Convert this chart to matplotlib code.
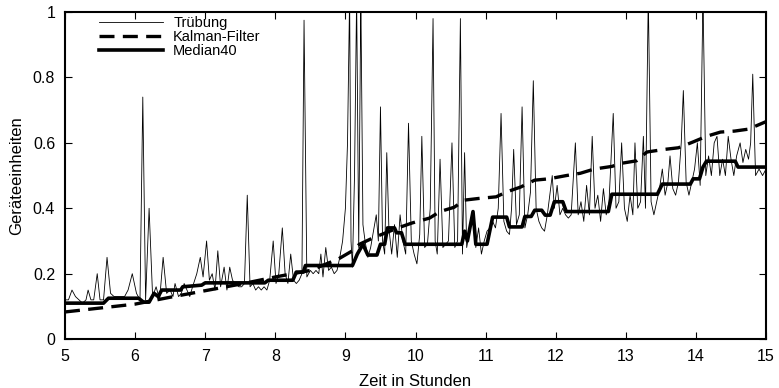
import matplotlib
matplotlib.use("Agg")
import matplotlib.pyplot as plt

plt.rcParams['font.family'] = ['Liberation Sans', 'DejaVu Sans']

# Trübung (raw signal)
trub_t = [5.00, 5.05, 5.10, 5.15, 5.20, 5.25, 5.30, 5.33, 5.37, 5.41, 5.46, 5.50, 5.55, 5.60, 5.65,
          5.70, 5.75, 5.80, 5.85, 5.90, 5.96, 6.02, 6.07, 6.11, 6.15, 6.20, 6.25, 6.30, 6.35, 6.40,
          6.45, 6.50, 6.54, 6.57, 6.62, 6.66, 6.70, 6.74, 6.78, 6.82, 6.88, 6.93, 6.97, 7.02, 7.06,
          7.10, 7.14, 7.18, 7.22, 7.27, 7.31, 7.35, 7.39, 7.43, 7.48, 7.52, 7.56, 7.60, 7.64, 7.68,
          7.72, 7.76, 7.80, 7.84, 7.88, 7.92, 7.97, 8.01, 8.05, 8.10, 8.14, 8.18, 8.22, 8.26, 8.30,
          8.34, 8.38, 8.41, 8.45, 8.50, 8.54, 8.58, 8.62, 8.65, 8.68, 8.72, 8.76, 8.80, 8.84, 8.88,
          8.92, 8.96, 9.00, 9.03, 9.06, 9.08, 9.10, 9.13, 9.16, 9.19, 9.22, 9.25, 9.28, 9.32, 9.36,
          9.40, 9.44, 9.47, 9.50, 9.53, 9.56, 9.59, 9.62, 9.66, 9.70, 9.74, 9.78, 9.82, 9.86, 9.90,
          9.94, 9.98, 10.02, 10.06, 10.09, 10.13, 10.17, 10.21, 10.25, 10.28, 10.31, 10.35, 10.39, 10.43, 10.47,
          10.52, 10.56, 10.60, 10.64, 10.67, 10.70, 10.73, 10.77, 10.82, 10.86, 10.90, 10.94, 10.98, 11.02, 11.06,
          11.10, 11.14, 11.18, 11.22, 11.26, 11.30, 11.34, 11.37, 11.40, 11.44, 11.48, 11.52, 11.56, 11.60, 11.64,
          11.68, 11.72, 11.76, 11.80, 11.84, 11.88, 11.92, 11.95, 11.98, 12.02, 12.06, 12.10, 12.14, 12.18, 12.22,
          12.28, 12.32, 12.36, 12.40, 12.44, 12.48, 12.52, 12.56, 12.60, 12.64, 12.68, 12.72, 12.76, 12.82, 12.86,
          12.90, 12.94, 12.98, 13.02, 13.06, 13.10, 13.13, 13.17, 13.21, 13.25, 13.28, 13.32, 13.36, 13.40, 13.44,
          13.48, 13.52, 13.56, 13.60, 13.63, 13.67, 13.71, 13.75, 13.79, 13.82, 13.86, 13.90, 13.94, 13.98, 14.02,
          14.06, 14.10, 14.14, 14.18, 14.22, 14.26, 14.30, 14.34, 14.38, 14.42, 14.46, 14.50, 14.54, 14.58, 14.63,
          14.67, 14.71, 14.75, 14.78, 14.81, 14.85, 14.90, 14.95, 15.00]
trub_v = [0.12, 0.12, 0.15, 0.13, 0.12, 0.11, 0.12, 0.15, 0.12, 0.12, 0.20, 0.12, 0.12, 0.25, 0.14,
          0.13, 0.13, 0.13, 0.13, 0.15, 0.20, 0.14, 0.12, 0.74, 0.12, 0.40, 0.13, 0.16, 0.12, 0.25,
          0.14, 0.15, 0.13, 0.17, 0.13, 0.14, 0.17, 0.15, 0.13, 0.16, 0.20, 0.25, 0.19, 0.30, 0.18,
          0.20, 0.15, 0.27, 0.16, 0.22, 0.15, 0.22, 0.18, 0.17, 0.16, 0.16, 0.17, 0.44, 0.16, 0.17,
          0.15, 0.16, 0.15, 0.16, 0.15, 0.18, 0.30, 0.17, 0.20, 0.34, 0.20, 0.17, 0.26, 0.18, 0.17,
          0.18, 0.20, 0.975, 0.19, 0.21, 0.20, 0.21, 0.20, 0.26, 0.19, 0.28, 0.21, 0.22, 0.20, 0.21,
          0.25, 0.30, 0.40, 0.60, 1.05, 0.30, 0.22, 0.50, 1.05, 0.28, 1.05, 0.35, 0.30, 0.25, 0.28,
          0.33, 0.38, 0.30, 0.71, 0.30, 0.26, 0.57, 0.34, 0.26, 0.35, 0.25, 0.38, 0.30, 0.26, 0.66,
          0.30, 0.26, 0.23, 0.32, 0.62, 0.28, 0.29, 0.40, 0.98, 0.30, 0.26, 0.55, 0.28, 0.29, 0.30,
          0.60, 0.28, 0.30, 0.98, 0.26, 0.57, 0.28, 0.33, 0.39, 0.28, 0.34, 0.26, 0.30, 0.33, 0.34,
          0.36, 0.34, 0.40, 0.69, 0.36, 0.33, 0.32, 0.40, 0.58, 0.35, 0.38, 0.71, 0.34, 0.38, 0.45,
          0.79, 0.40, 0.36, 0.34, 0.33, 0.38, 0.45, 0.50, 0.40, 0.47, 0.38, 0.40, 0.38, 0.37, 0.38,
          0.60, 0.38, 0.42, 0.36, 0.47, 0.38, 0.62, 0.40, 0.44, 0.36, 0.46, 0.38, 0.42, 0.69, 0.40,
          0.42, 0.60, 0.40, 0.36, 0.44, 0.38, 0.60, 0.40, 0.42, 0.62, 0.40, 1.05, 0.42, 0.38, 0.42,
          0.46, 0.52, 0.44, 0.48, 0.56, 0.46, 0.44, 0.48, 0.60, 0.76, 0.48, 0.44, 0.48, 0.52, 0.60,
          0.47, 1.05, 0.50, 0.56, 0.50, 0.60, 0.62, 0.50, 0.55, 0.50, 0.62, 0.55, 0.50, 0.56, 0.60,
          0.54, 0.58, 0.55, 0.60, 0.81, 0.50, 0.52, 0.50, 0.52]

# Kalman-Filter
kalman_t = [5.0, 5.5, 6.0, 6.5, 7.0, 7.5, 8.0, 8.5, 8.9, 9.1, 9.2, 9.4, 9.75, 9.95, 10.2,
            10.35, 10.55, 10.7, 10.9, 11.15, 11.3, 11.5, 11.7, 11.9, 12.15, 12.35, 12.55, 12.8,
            12.95, 13.15, 13.3, 13.55, 13.75, 13.95, 14.15, 14.35, 14.55, 14.75, 15.0]
kalman_v = [0.083, 0.095, 0.107, 0.128, 0.148, 0.168, 0.19, 0.21, 0.245, 0.27, 0.29, 0.31, 0.34,
            0.355, 0.37, 0.39, 0.403, 0.425, 0.43, 0.435, 0.45, 0.465, 0.486, 0.49, 0.5, 0.507,
            0.52, 0.528, 0.538, 0.545, 0.572, 0.58, 0.585, 0.602, 0.62, 0.633, 0.636, 0.642, 0.665]

# Median40
median_t = [5.0, 5.55, 5.62, 6.05, 6.12, 6.2, 6.27, 6.33, 6.38, 6.65, 6.68, 6.95, 7.0, 7.85, 7.9,
            8.25, 8.3, 8.4, 8.43, 9.1, 9.17, 9.25, 9.32, 9.45, 9.5, 9.56, 9.6, 9.7, 9.73, 9.8,
            9.85, 10.66, 10.7, 10.74, 10.82, 10.86, 11.02, 11.1, 11.3, 11.34, 11.52, 11.56, 11.65,
            11.7, 11.8, 11.85, 11.92, 11.98, 12.1, 12.15, 12.75, 12.8, 13.45, 13.52, 13.92, 13.96,
            14.05, 14.1, 14.15, 14.56, 14.6, 15.0]
median_v = [0.11, 0.11, 0.125, 0.125, 0.113, 0.113, 0.14, 0.13, 0.15, 0.15, 0.16, 0.165, 0.172,
            0.172, 0.18, 0.18, 0.205, 0.205, 0.225, 0.225, 0.26, 0.29, 0.257, 0.257, 0.29, 0.29,
            0.34, 0.34, 0.325, 0.325, 0.29, 0.29, 0.33, 0.30, 0.39, 0.29, 0.29, 0.373, 0.373,
            0.343, 0.343, 0.375, 0.375, 0.394, 0.394, 0.379, 0.379, 0.42, 0.42, 0.39, 0.39, 0.443,
            0.443, 0.474, 0.474, 0.49, 0.49, 0.526, 0.544, 0.544, 0.526, 0.526]

fig = plt.figure(figsize=(7.79, 3.88), dpi=100)
ax = fig.add_axes([0.0834, 0.126, 0.9, 0.843])

ax.plot(trub_t, trub_v, color='black', lw=0.6, label='Trübung')
ax.plot(kalman_t, kalman_v, color='black', lw=2.4, ls=(0, (4.5, 2.5)), label='Kalman-Filter')
ax.plot(median_t, median_v, color='black', lw=2.6, label='Median40')

ax.set_xlim(5, 15)
ax.set_ylim(0, 1)
ax.set_xticks(range(5, 16))
ax.set_yticks([0, 0.2, 0.4, 0.6, 0.8, 1])
ax.set_yticklabels(['0', '0.2', '0.4', '0.6', '0.8', '1'])
ax.tick_params(direction='in', top=True, right=True, labelsize=11.5, length=5, width=0.8, pad=7)
for s in ax.spines.values():
    s.set_linewidth(1.5)

ax.set_xlabel('Zeit in Stunden', fontsize=12, labelpad=7)
ax.set_ylabel('Geräteeinheiten', fontsize=12, labelpad=6)

ax.legend(loc='upper left', frameon=False, fontsize=10.5, handlelength=4.4,
          handletextpad=0.7, labelspacing=0.0, borderaxespad=0.0, bbox_to_anchor=(0.04, 1.005))

fig.savefig('out.png', dpi=100)
